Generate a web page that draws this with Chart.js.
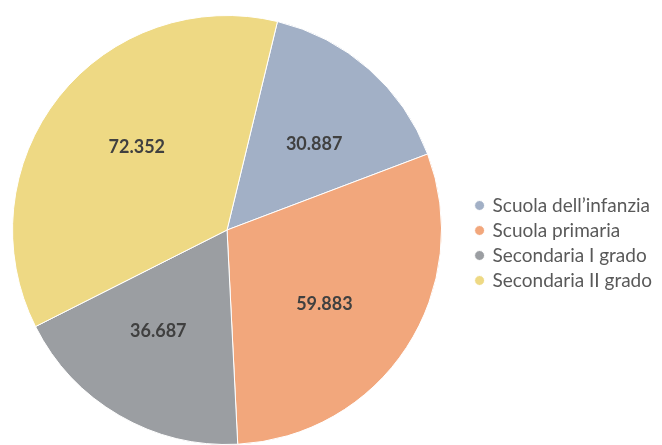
<!DOCTYPE html>
<html>
<head>
<meta charset="utf-8">
<script src="https://cdn.jsdelivr.net/npm/chart.js@4/dist/chart.umd.min.js"></script>
<style>
	html, body { margin: 0; padding: 0; background: #fff; overflow: hidden; }
	/* a bit wider than the window so the pie sits further left, like the original */
	#wrap { width: 678px; height: 445px; margin-left: -16px; }
</style>
</head>
<body>
<div id="wrap"><canvas id="chartPie"></canvas></div>
<script>
// Data
const categories = ["Scuola dell’infanzia", "Scuola primaria", "Secondaria I grado", "Secondaria II grado"];
const values = [30887, 59883, 36687, 72352];
const sliceColors = ["#a2b0c6", "#f2a77c", "#9b9ea2", "#eed984"];

// Italian thousands separator
function formatValue(v) {
	return String(v).replace(/\B(?=(\d{3})+(?!\d))/g, ".");
}

// Draws the values inside the slices
const sliceLabels = {
	id: "sliceLabels",
	afterDatasetsDraw(chart) {
		const ctx = chart.ctx;
		const meta = chart.getDatasetMeta(0);
		ctx.save();
		ctx.font = "bold 18px Lato";
		ctx.fillStyle = "#404040";
		ctx.textAlign = "center";
		ctx.textBaseline = "middle";
		meta.data.forEach((arc, i) => {
			const { x, y, startAngle, endAngle, outerRadius } = arc.getProps(["x", "y", "startAngle", "endAngle", "outerRadius"], true);
			const mid = (startAngle + endAngle) / 2 + 0.07;
			const r = outerRadius * 0.57;
			ctx.fillText(formatValue(values[i]), x + Math.cos(mid) * r, y + Math.sin(mid) * r);
		});
		ctx.restore();
	},
};

new Chart(document.getElementById("chartPie"), {
	type: "pie",
	data: {
		labels: categories,
		datasets: [
			{
				data: values,
				backgroundColor: sliceColors,
				borderColor: "#ffffff",
				borderWidth: 1,
			},
		],
	},
	options: {
		responsive: true,
		maintainAspectRatio: false,
		animation: false,
		rotation: 13.6,
		layout: {
			padding: { top: 15, bottom: 0, left: 0, right: 0 },
		},
		plugins: {
			legend: {
				position: "right",
				title: {
					// empty title only pushes the items a bit lower
					display: true,
					text: " ",
					font: { size: 10 },
					padding: 7,
				},
				labels: {
					usePointStyle: true,
					pointStyle: "circle",
					boxWidth: 7,
					boxHeight: 7,
					padding: 6,
					color: "#595959",
					font: { size: 19, family: "Lato" },
				},
			},
			tooltip: { enabled: false },
		},
	},
	plugins: [sliceLabels],
});
</script>
</body>
</html>
